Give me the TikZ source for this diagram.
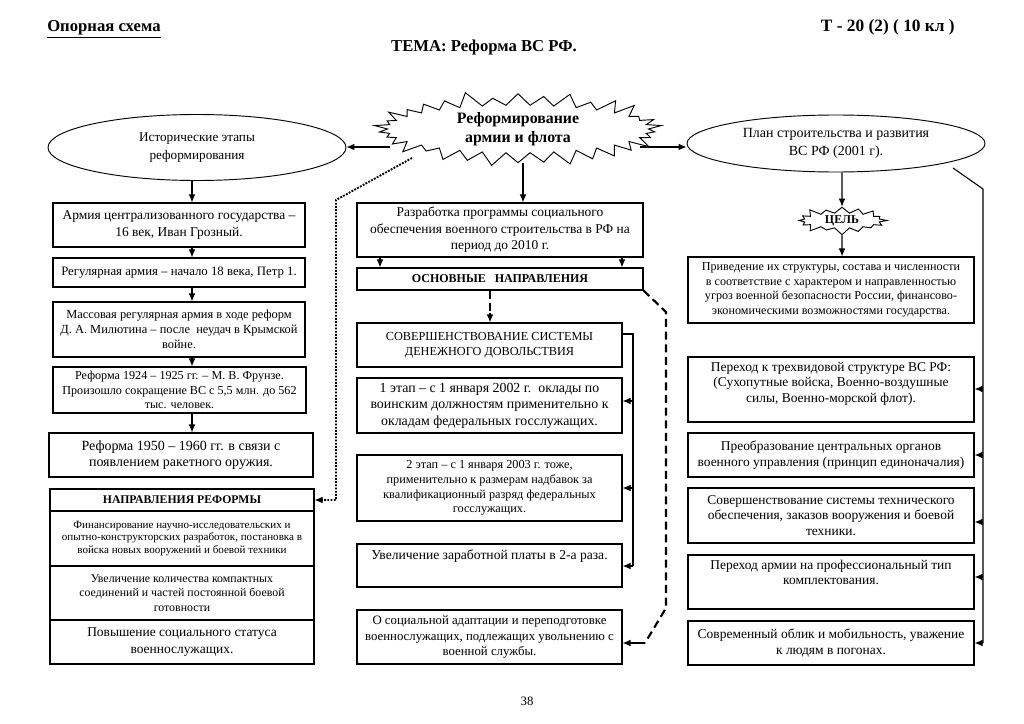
\documentclass[tikz,border=0pt]{standalone}
\usepackage{fontspec}
\setmainfont{Liberation Serif}
\usetikzlibrary{arrows.meta,shapes.symbols,shapes.geometric}
\begin{document}
\begin{tikzpicture}[x=0.75pt,y=-0.75pt,
  fs/.style 2 args={font=\fontsize{#1}{#2}\selectfont},
  box/.style={draw, line width=0.8pt, inner sep=0pt, align=center, fs={9.6}{11.3}},
  sz/.code 2 args={\pgfmathsetmacro\tmpw{#1*0.75}\pgfmathsetmacro\tmph{#2*0.75}%
     \edef\tmpszkeys{\noexpand\pgfkeysalso{minimum width=\tmpw pt, minimum height=\tmph pt}}\tmpszkeys},
  arr/.style={line width=0.8pt, -{Latex[length=6pt,width=5pt]}},
  conn/.style={line width=0.8pt},
  dotline/.style={line width=1.4pt, densely dotted},
  dashline/.style={line width=1.6pt, dash pattern=on 6pt off 3.5pt},
]
\path[use as bounding box, fill=white] (0,0) rectangle (1024,724);

% header
\node[anchor=base west, font=\fontsize{12.5}{14}\selectfont\bfseries, inner sep=0pt] (hdrL) at (47,32) {\underline{Опорная схема}};
\node[anchor=base east, font=\fontsize{13}{15}\selectfont\bfseries, inner sep=0pt] (hdrR) at (955,32) {Т - 20 (2) ( 10 кл )};
\node[anchor=base, font=\fontsize{12.5}{14}\selectfont\bfseries, inner sep=0pt] (title) at (484,52) {ТЕМА: Реформа ВС РФ.};
\node[anchor=base, fs={9.6}{11}, inner sep=0pt] (page) at (527,705) {38};

% central starburst
\node[draw, line width=0.7pt, starburst, starburst points=34, starburst point height=12pt,
  sz={293}{78}, inner sep=0pt, align=center, font=\fontsize{11.9}{14.5}\selectfont\bfseries] (star) at (518,129)
  {Реформирование\\армии и флота};

% ellipses
\node[draw, line width=0.7pt, ellipse, sz={298}{66}, inner sep=0pt, align=center, fs={9.9}{13}] (ellL) at (197,147.5)
  {Исторические этапы\\реформирования};
\node[draw, line width=0.7pt, ellipse, sz={298}{57}, inner sep=0pt, align=center, fs={10.5}{13}] (ellR) at (836,143.5)
  {План строительства и развития\\ВС РФ (2001 г).};

% left column
\node[box, sz={252}{44}, fs={10.1}{12.4}] (L1) at (179,225) {Армия централизованного государства –\\16 век, Иван Грозный.};
\node[box, sz={252}{29}] (L2) at (179,272.5) {Регулярная армия – начало 18 века, Петр 1.};
\node[box, sz={252}{55}, fs={9.3}{11.3}] (L3) at (179,329.5) {Массовая регулярная армия в ходе реформ\\Д. А. Милютина – после\ \ неудач в Крымской\\войне.};
\node[box, sz={253}{46}, fs={9.1}{11}] (L4) at (179.5,390) {Реформа 1924 – 1925 гг. – М. В. Фрунзе.\\Произошло сокращение ВС с 5,5 млн. до 562\\тыс. человек.};
\node[box, sz={264}{44}, fs={10.5}{12.4}] (L5) at (181,455) {Реформа 1950 – 1960 гг. в связи с\\появлением ракетного оружия.};
\node[box, sz={264}{22}, font=\fontsize{8.8}{10}\selectfont\bfseries] (NR) at (182,500) {НАПРАВЛЕНИЯ РЕФОРМЫ};
\node[box, sz={264}{55}, fs={8.3}{9.5}] (NR1) at (182,538.5) {Финансирование научно-исследовательских и\\опытно-конструкторских разработок, постановка в\\войска новых вооружений и боевой техники};
\node[box, sz={264}{54}, fs={8.9}{11}] (NR2) at (182,593) {Увеличение количества компактных\\соединений и частей постоянной боевой\\готовности};
\node[box, sz={264}{44}, fs={10.1}{12.4}] (NR3) at (182,642) {Повышение социального статуса\\военнослужащих.};

% middle column
\node[box, sz={286}{54}, fs={10.1}{12.4}] (M1) at (500,230) {Разработка программы социального\\обеспечения военного строительства в РФ на\\период до 2010 г.};
\node[box, sz={286}{22}, font=\fontsize{9}{10}\selectfont\bfseries] (M2) at (500,279) {ОСНОВНЫЕ\ \ \ НАПРАВЛЕНИЯ};
\node[box, sz={265}{44}, fs={9.2}{11.2}] (M3) at (489.5,345) {СОВЕРШЕНСТВОВАНИЕ СИСТЕМЫ\\ДЕНЕЖНОГО ДОВОЛЬСТВИЯ};
\node[box, sz={265}{55}, fs={10.4}{12.3}] (M4) at (489.5,405.5) {1 этап – с 1 января 2002 г.\ \ оклады по\\воинским должностям применительно к\\окладам федеральных госслужащих.};
\node[box, sz={265}{66}, fs={9.2}{10.9}] (M5) at (489.5,488) {2 этап – с 1 января 2003 г. тоже,\\применительно к размерам надбавок за\\квалификационный разряд федеральных\\госслужащих.};
\node[box, sz={265}{43}, fs={10.2}{12}] (M6) at (489.5,565.5) {Увеличение заработной платы в 2-а раза.\\\strut};
\node[box, sz={265}{54}] (M7) at (489.5,637) {О социальной адаптации и переподготовке\\военнослужащих, подлежащих увольнению с\\военной службы.};

% right column
\node[draw, line width=0.7pt, starburst, starburst points=16, starburst point height=6pt,
  sz={92}{31}, inner sep=0pt, font=\fontsize{9}{10}\selectfont\bfseries] (goal) at (842,220.5) {ЦЕЛЬ};
\node[box, sz={286}{66}, fs={9.1}{10.9}] (R1) at (831,290) {Приведение их структуры, состава и численности\\в соответствие с характером и направленностью\\угроз военной безопасности России, финансово-\\экономическими возможностями государства.};
\node[box, sz={286}{65}, fs={10.1}{11.5}] (R2) at (831,389.5) {Переход к трехвидовой структуре ВС РФ:\\(Сухопутные войска, Военно-воздушные\\силы, Военно-морской флот).\\[-4pt]\strut};
\node[box, sz={286}{44}, fs={10.1}{11.5}] (R3) at (831,455) {Преобразование центральных органов\\военного управления (принцип единоначалия)};
\node[box, sz={286}{55}, fs={10.1}{11.5}] (R4) at (831,515.5) {Совершенствование системы технического\\обеспечения, заказов вооружения и боевой\\техники.};
\node[box, sz={286}{54}, fs={10.1}{11.5}] (R5) at (831,582) {Переход армии на профессиональный тип\\комплектования.\\\strut};
\node[box, sz={286}{44}, fs={10.1}{12}] (R6) at (831,643) {Современный облик и мобильность, уважение\\к людям в погонах.};

% connectors: star to ellipses and down
\coordinate (sl) at (390,147);
\coordinate (sr) at (640,147);
\coordinate (ax2) at (523,0);
\draw[arr] (sl) -- (ellL.east |- sl);
\draw[arr] (sr) -- (ellR.west |- sr);
\draw[arr] (star.south -| ax2) -- (M1.north -| ax2);

% left chain
\coordinate (ax) at (192,0);
\draw[arr] (ellL.south -| ax) -- (L1.north -| ax);
\draw[arr] (L1.south -| ax) -- (L2.north -| ax);
\draw[arr] (L2.south -| ax) -- (L3.north -| ax);
\draw[arr] (L3.south -| ax) -- (L4.north -| ax);
\draw[arr] (L4.south -| ax) -- (L5.north -| ax);

% dotted star -> directions of reform
\coordinate (d1) at (412,158);
\coordinate (d2) at (336,200);
\draw[dotline] (d1) -- (d2) -- (d2 |- NR.east) -- ([xshift=5pt]NR.east);
\draw[arr] ([xshift=6pt]NR.east) -- (NR.east);

% middle
\coordinate (mx1) at (380,0);
\coordinate (mx2) at (622,0);
\draw[arr] (M1.south -| mx1) -- (M2.north -| mx1);
\draw[arr] (M1.south -| mx2) -- (M2.north -| mx2);
\coordinate (mx3) at (490,0);
\draw[dashline] (M2.south -| mx3) -- ([yshift=6pt]M3.north -| mx3);
\draw[arr] ([yshift=7pt]M3.north -| mx3) -- (M3.north -| mx3);
\coordinate (mv) at (633,334);
\coordinate (mv4) at (633,401);
\coordinate (mv5) at (633,488);
\coordinate (mv6) at (633,566);
\draw[conn] (M3.east |- mv) -- (mv) -- (mv6);
\draw[arr] (mv4) -- (mv4 -| M4.east);
\draw[arr] (mv5) -- (mv5 -| M5.east);
\draw[arr] (mv6) -- (mv6 -| M6.east);
\coordinate (dd1) at (666,312);
\coordinate (dd2) at (666,608);
\coordinate (dd3) at (645,643);
\draw[dashline] (M2.south east) -- (dd1) -- (dd2) -- (dd3);
\draw[arr] (dd3) -- (dd3 -| M7.east);

% right
\coordinate (gx) at (842,0);
\draw[arr] (ellR.south -| gx) -- (goal.north);
\draw[arr] (goal.south) -- (R1.north -| gx);
\coordinate (rv1) at (953,168);
\coordinate (rv2) at (983,189);
\coordinate (ra2) at (983,389);
\coordinate (ra3) at (983,455);
\coordinate (ra4) at (983,522);
\coordinate (ra5) at (983,577);
\coordinate (ra6) at (983,643);
\draw[conn] (rv1) -- (rv2) -- (ra6);
\draw[arr] (ra2) -- (ra2 -| R2.east);
\draw[arr] (ra3) -- (ra3 -| R3.east);
\draw[arr] (ra4) -- (ra4 -| R4.east);
\draw[arr] (ra5) -- (ra5 -| R5.east);
\draw[arr] (ra6) -- (ra6 -| R6.east);
\end{tikzpicture}
\end{document}
